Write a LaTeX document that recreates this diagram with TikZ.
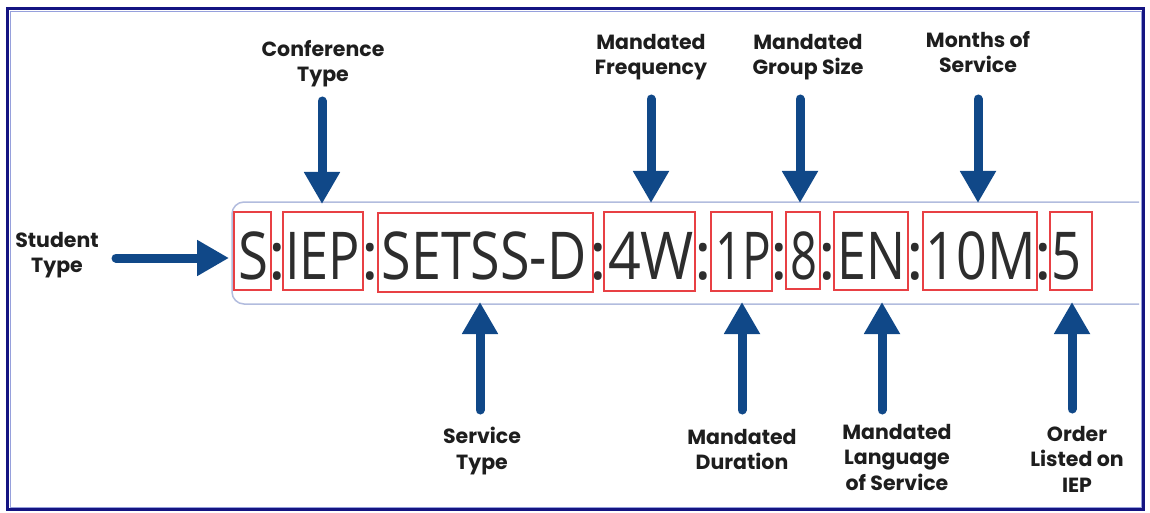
\documentclass[tikz,border=0pt]{standalone}
\usepackage{fontspec}
\usepackage{graphicx}
\usetikzlibrary{arrows.meta}
\newfontfamily\bigfont{Open Sans}
\newfontfamily\lblfont{Poppins}
\definecolor{navyframe}{RGB}{20,20,130}
\definecolor{frameinner}{RGB}{150,160,220}
\definecolor{fieldline}{RGB}{178,188,222}
\definecolor{arrowblue}{RGB}{16,72,136}
\definecolor{boxred}{RGB}{232,64,68}
\definecolor{textgray}{RGB}{45,45,45}
\definecolor{lblgray}{RGB}{30,30,30}
\newcommand{\fitw}[2]{\makebox[\dimexpr#1pt-10pt\relax][c]{\resizebox{#1pt}{\height}{#2}}}
\tikzset{
  rbox/.style={draw=boxred, line width=2.8pt, inner sep=0pt},
  seg/.style={inner sep=0pt, anchor=base, text=textgray, font=\bigfont\fontsize{66}{66}\selectfont},
  colon/.style={inner sep=0pt, anchor=base, text=textgray, font=\bigfont\fontsize{66}{66}\selectfont},
  lbl/.style={inner sep=0pt, anchor=north, align=center, text=lblgray, font=\lblfont\bfseries\fontsize{20.5}{25.5}\selectfont},
  arr/.style={draw=arrowblue, line width=9pt, line cap=round, -{Triangle[width=34pt,length=32pt]}, fill=arrowblue},
}
\begin{document}
\begin{tikzpicture}[x=1pt,y=-1pt]
\useasboundingbox (0,0) rectangle (1150,513);
\fill[white] (0,0) rectangle (1150,513);
% frame
\draw[navyframe, line width=3pt] (7.5,8.5) rectangle (1143.5,509.5);
\draw[frameinner, line width=0.8pt] (10,11) rectangle (1141,507);
% field outline
\draw[fieldline, line width=1.5pt, rounded corners=12pt] (1139,202) -- (232,202) -- (232,304) -- (1139,304);
% red boxes
\node[rbox, minimum width=37pt, minimum height=78pt] (bS) at (252.5,251) {};
\node[rbox, minimum width=80pt, minimum height=78pt] (bIEP) at (323,251) {};
\node[rbox, minimum width=215pt, minimum height=79pt] (bSET) at (485.5,252.5) {};
\node[rbox, minimum width=91pt, minimum height=79pt] (b4W) at (649.5,251.5) {};
\node[rbox, minimum width=61pt, minimum height=79pt] (b1P) at (741.5,251.5) {};
\node[rbox, minimum width=34pt, minimum height=77pt] (b8) at (803,250.5) {};
\node[rbox, minimum width=74pt, minimum height=78pt] (bEN) at (871,251) {};
\node[rbox, minimum width=114pt, minimum height=78pt] (b10M) at (980,251) {};
\node[rbox, minimum width=42pt, minimum height=78pt] (b5) at (1071,251) {};
% segment texts
\node[seg] (tS) at (253.5,279) {\fitw{30}{S}};
\node[seg] (tIEP) at (322.5,279) {\fitw{75}{IEP}};
\node[seg] (tSET) at (484,279) {\fitw{205}{SETSS-D}};
\node[seg] (t4W) at (651,279) {\fitw{86}{4W}};
\node[seg] (t1P) at (743,279) {\fitw{56}{1P}};
\node[seg] (t8) at (803.5,279) {\fitw{27}{8}};
\node[seg] (tEN) at (871.5,279) {\fitw{68}{EN}};
\node[seg] (t10M) at (980.5,279) {\fitw{110}{10M}};
\node[seg] (t5) at (1066.5,279) {\fitw{30}{5}};
% colons
\foreach \cx/\nm in {277/c1,370/c2,598/c3,703/c4,779/c5,827/c6,915/c7,1043/c8}
  \node[colon] (\nm) at (\cx,279) {\makebox[5pt]{:}};
% labels
\node[lbl] (lStudent) at (57,232) {Student\\Type};
\node[lbl] (lConf) at (323,40) {Conference\\Type};
\node[lbl] (lFreq) at (651,34) {Mandated\\Frequency};
\node[lbl] (lGroup) at (808,34) {Mandated\\Group Size};
\node[lbl] (lMonths) at (978,31) {Months of\\Service};
\node[lbl] (lService) at (482,427) {Service\\Type};
\node[lbl] (lDur) at (742,429) {Mandated\\Duration};
\node[lbl] (lLang) at (897,424) {Mandated\\Language\\of Service};
\node[lbl] (lOrder) at (1077,426) {Order\\Listed on\\IEP};
% arrow end points
\coordinate (aStudentT) at (116,258);
\coordinate (aStudentH) at (229,258);
\coordinate (aConfT) at (322,101);
\coordinate (aConfH) at (322,204);
\coordinate (aFreqT) at (651,99);
\coordinate (aFreqH) at (651,203);
\coordinate (aGroupT) at (800,99);
\coordinate (aGroupH) at (800,203);
\coordinate (aMonthsT) at (978,99);
\coordinate (aMonthsH) at (978,203);
\coordinate (aServT) at (480,410);
\coordinate (aServH) at (480,302);
\coordinate (aDurT) at (742,410);
\coordinate (aDurH) at (742,302);
\coordinate (aLangT) at (882,410);
\coordinate (aLangH) at (882,302);
\coordinate (aOrderT) at (1072,409);
\coordinate (aOrderH) at (1072,302);
\foreach \a in {Student,Conf,Freq,Group,Months,Serv,Dur,Lang,Order}
  \draw[arr] (a\a T) -- (a\a H);
\end{tikzpicture}
\end{document}
